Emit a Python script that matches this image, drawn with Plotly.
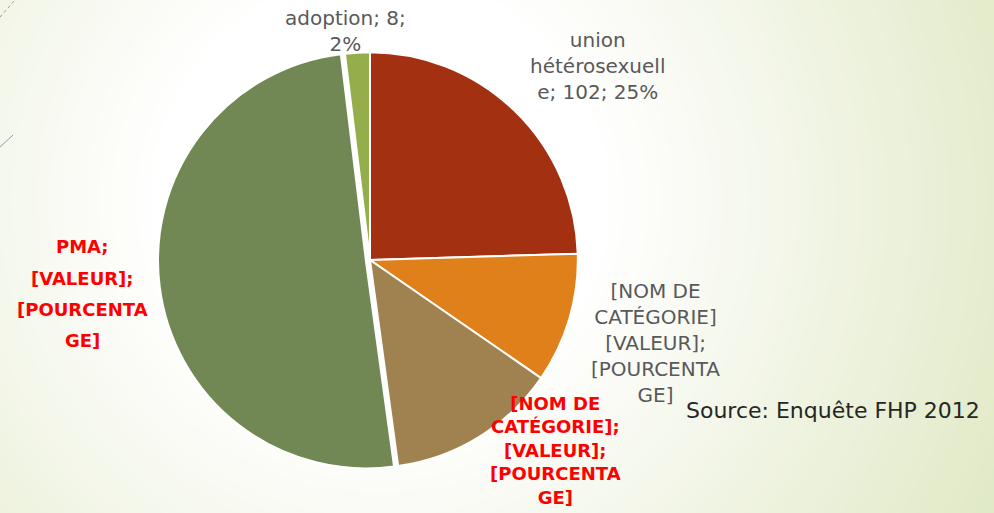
import plotly.graph_objects as go

# data
labels = ["union hétérosexuelle", "[NOM DE CATÉGORIE] (a)", "[NOM DE CATÉGORIE] (b)", "PMA", "adoption"]
values = [102, 42, 55, 209, 8]
colors = ["#A33010", "#E0801B", "#A08250", "#728854", "#94AE4C"]
pulls = [0, 0, 0, 0.02, 0]

label_texts = [
    "union<br>hétérosexuell<br>e; 102; 25%",
    "[NOM DE<br>CATÉGORIE]<br>[VALEUR];<br>[POURCENTA<br>GE]",
    "<b>[NOM DE<br>CATÉGORIE];<br>[VALEUR];<br>[POURCENTA<br>GE]</b>",
    "adoption; 8;<br>2%",
]
label_x = [597, 655, 555, 345]
label_y = [66, 343, 450, 31]
label_colors = ["#595959", "#595959", "#FF0000", "#595959"]
label_sizes = [20, 20, 18, 20]

# PMA label, one line at a time (wider line spacing in the original)
pma_lines = ["PMA;", "[VALEUR];", "[POURCENTA", "GE]"]
source_text = "Source: Enquête FHP 2012"

W, H = 994, 513
FONT = "DejaVu Sans"

fig = go.Figure()

fig.add_trace(go.Pie(
    labels=labels,
    values=values,
    sort=False,
    direction="clockwise",
    rotation=0,
    pull=pulls,
    marker=dict(colors=colors, line=dict(color="white", width=2)),
    textinfo="none",
    showlegend=False,
    domain=dict(x=[158 / W, 582 / W], y=[41 / H, 465 / H]),
))

# radial background gradient (white centre -> pale green edges)
shapes = []
cx, cy = 380, 200
n = 40
r_out, r_in = 720, 230
c_out = (223, 232, 195)
c_in = (255, 255, 255)
for i in range(n):
    t = i / (n - 1)
    r = r_out + (r_in - r_out) * t
    c = tuple(int(round(a + (b - a) * t)) for a, b in zip(c_out, c_in))
    shapes.append(dict(
        type="circle", xref="paper", yref="paper", layer="below",
        x0=(cx - r) / W, x1=(cx + r) / W,
        y0=1 - (cy + r) / H, y1=1 - (cy - r) / H,
        fillcolor="rgb(%d,%d,%d)" % c, line=dict(width=0),
    ))
# small decorative strokes at top-left
shapes.append(dict(type="line", xref="paper", yref="paper", x0=0, y0=1 - 17 / H, x1=15 / W, y1=1,
                   line=dict(color="#9A9A9A", width=1, dash="dot")))
shapes.append(dict(type="line", xref="paper", yref="paper", x0=0, y0=1 - 147 / H, x1=13 / W, y1=1 - 135 / H,
                   line=dict(color="#9A9A9A", width=1)))

annotations = []
for txt, x, y, col, sz in zip(label_texts, label_x, label_y, label_colors, label_sizes):
    annotations.append(dict(
        text=txt, xref="paper", yref="paper", x=x / W, y=1 - y / H,
        xanchor="center", yanchor="middle", showarrow=False, align="center",
        font=dict(family=FONT, size=sz, color=col),
    ))
for i, line in enumerate(pma_lines):
    annotations.append(dict(
        text="<b>" + line + "</b>", xref="paper", yref="paper", x=82 / W, y=1 - (247 + 31 * i) / H,
        xanchor="center", yanchor="middle", showarrow=False,
        font=dict(family=FONT, size=18, color="#FF0000"),
    ))
annotations.append(dict(
    text=source_text, xref="paper", yref="paper", x=684 / W, y=1 - 410 / H,
    xanchor="left", yanchor="middle", showarrow=False,
    font=dict(family=FONT, size=22, color="#262626"),
))

fig.update_layout(
    width=W, height=H,
    margin=dict(l=0, r=0, t=0, b=0),
    paper_bgcolor="rgb(223,232,195)",
    plot_bgcolor="rgba(0,0,0,0)",
    shapes=shapes,
    annotations=annotations,
    font=dict(family=FONT),
)

fig.write_html("out.html", config={"displayModeBar": False},
               post_script="document.body.style.margin='0';")
